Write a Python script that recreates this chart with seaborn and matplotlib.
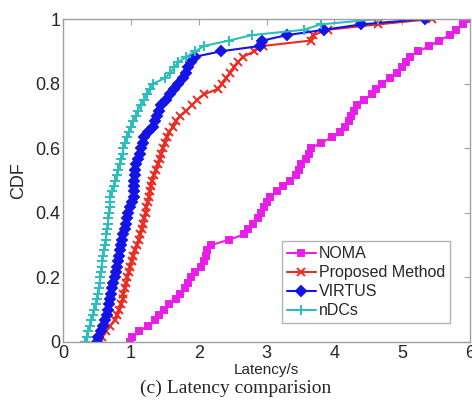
import numpy as np
import pandas as pd
import seaborn as sns
import matplotlib
matplotlib.use('Agg')
import matplotlib.pyplot as plt

# latency samples (s), sorted
noma = [0.99, 1.02, 1.12, 1.26, 1.36, 1.42, 1.49, 1.57, 1.66, 1.73, 1.80,
        1.84, 1.88, 1.95, 2.04, 2.08, 2.11, 2.13, 2.18, 2.45, 2.67,
        2.72, 2.80, 2.87, 2.92, 2.96, 3.00, 3.05, 3.15, 3.25, 3.35,
        3.44, 3.48, 3.51, 3.58, 3.62, 3.66, 3.80, 3.96, 4.08, 4.16,
        4.21, 4.25, 4.29, 4.33, 4.43, 4.55, 4.62, 4.70, 4.82, 4.92,
        5.00, 5.06, 5.11, 5.24, 5.40, 5.55, 5.70, 5.80, 5.90, 5.98]
proposed = [0.55, 0.58, 0.63, 0.70, 0.76, 0.80, 0.83, 0.86, 0.88, 0.89, 0.91,
            0.93, 0.95, 0.97, 0.99, 1.01, 1.03, 1.06, 1.09, 1.12, 1.14,
            1.16, 1.18, 1.20, 1.22, 1.23, 1.25, 1.27, 1.28, 1.29, 1.31,
            1.34, 1.37, 1.40, 1.43, 1.45, 1.47, 1.50, 1.53, 1.57, 1.62,
            1.66, 1.72, 1.82, 1.90, 1.98, 2.08, 2.28, 2.35, 2.41, 2.46,
            2.52, 2.58, 2.66, 2.82, 2.95, 3.66, 3.69, 3.90, 4.65, 5.44]
virtus = [0.50, 0.52, 0.56, 0.59, 0.62, 0.65, 0.67, 0.68, 0.70, 0.71, 0.72,
          0.74, 0.76, 0.78, 0.80, 0.81, 0.82, 0.84, 0.85, 0.87, 0.89,
          0.91, 0.93, 0.95, 0.96, 0.99, 1.02, 1.04, 1.04, 1.05, 1.05,
          1.06, 1.06, 1.07, 1.10, 1.13, 1.15, 1.18, 1.20, 1.26, 1.33,
          1.36, 1.39, 1.42, 1.45, 1.52, 1.58, 1.64, 1.70, 1.77, 1.81,
          1.85, 1.88, 1.95, 2.33, 2.91, 2.94, 3.30, 3.85, 4.40, 5.33]
ndcs = [0.33, 0.35, 0.37, 0.40, 0.42, 0.44, 0.46, 0.48, 0.50, 0.51, 0.53,
        0.54, 0.55, 0.56, 0.57, 0.58, 0.59, 0.60, 0.62, 0.63, 0.64,
        0.65, 0.66, 0.67, 0.68, 0.69, 0.69, 0.70, 0.72, 0.75, 0.77,
        0.79, 0.81, 0.84, 0.86, 0.88, 0.89, 0.91, 0.95, 0.98, 1.00,
        1.03, 1.07, 1.10, 1.15, 1.19, 1.24, 1.28, 1.33, 1.50, 1.58,
        1.64, 1.70, 1.82, 1.95, 2.08, 2.45, 2.78, 3.55, 3.80, 4.65]

methods = ['NOMA', 'Proposed Method', 'VIRTUS', 'nDCs']
samples = [noma, proposed, virtus, ndcs]
colors = ['#E81EE8', '#EC2A20', '#1414E6', '#2CBDBD']
markers = ['s', 'x', 'D', '+']
msizes = [5, 6, 5, 7]

rows = []
for name, vals in zip(methods, samples):
    v = np.sort(np.array(vals))
    cdf = np.arange(len(v)) / (len(v) - 1)
    for a, b in zip(v, cdf):
        rows.append({'method': name, 'latency': a, 'cdf': b})
df = pd.DataFrame(rows)

sns.set_style('white')
plt.rcParams['font.family'] = ['Liberation Sans', 'DejaVu Sans']

fig = plt.figure(figsize=(4.72, 4.09), dpi=100)
ax = fig.add_axes([63 / 472, 67 / 409, 407 / 472, 323 / 409])

for name, c, m, ms in zip(methods, colors, markers, msizes):
    sub = df[df['method'] == name]
    sns.lineplot(data=sub, x='latency', y='cdf', ax=ax, sort=False,
                 estimator=None, color=c, marker=m, markersize=ms,
                 markeredgecolor=c, markeredgewidth=1.4, linewidth=1.5,
                 label=name)

ax.set_xlim(0, 6)
ax.set_ylim(0, 1)
ax.set_xticks([0, 1, 2, 3, 4, 5, 6])
ax.set_yticks([0, 0.2, 0.4, 0.6, 0.8, 1])
ax.set_yticklabels(['0', '0.2', '0.4', '0.6', '0.8', '1'])
ax.tick_params(direction='in', length=4, width=0.8, color='#A0A0A0',
               labelsize=13, top=True, right=True, pad=2)
for s in ax.spines.values():
    s.set_color('#A0A0A0')
    s.set_linewidth(1.0)

ax.set_xlabel('Latency/s', fontsize=11, labelpad=1)
ax.set_ylabel('CDF', fontsize=13, labelpad=6)

leg = ax.legend(loc='lower right', bbox_to_anchor=(0.951, 0.059),
                fontsize=11.5, frameon=True, fancybox=False,
                edgecolor='#A0A0A0', handlelength=1.8, handletextpad=0.2,
                borderpad=0.3, labelspacing=0.25, borderaxespad=0)
leg.get_frame().set_linewidth(1.0)

fig.text(0.5, 0.05, '(c) Latency comparision', ha='center', va='center',
         fontsize=14, family=['Liberation Serif', 'DejaVu Serif'])

fig.savefig('out.png', dpi=100)
